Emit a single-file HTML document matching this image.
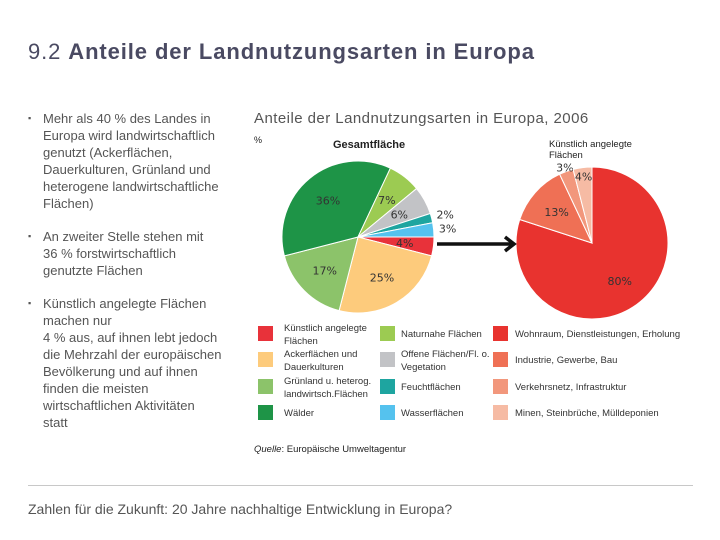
<!DOCTYPE html>
<html><head><meta charset="utf-8"><style>
body{margin:0;width:720px;height:540px;background:#fff;font-family:"Liberation Sans",sans-serif;position:relative;overflow:hidden}
.a{position:absolute}
#title{left:28px;top:39px;font-size:22px;color:#4a4a62;white-space:nowrap;letter-spacing:0.9px}
.bul{left:28px;font-size:13px;line-height:17px;color:#555;width:230px;white-space:nowrap}
.bul span{position:absolute;left:0;font-size:9px}
.bul div{margin-left:15px}
.lg{font-size:9.5px;color:#333;line-height:13px}
.sq{width:15px;height:15px}
</style></head><body>
<div class="a" id="title">9.2 <b>Anteile der Landnutzungsarten in Europa</b></div>
<div class="a bul" style="top:110px"><span>▪</span><div>Mehr als 40 % des Landes in<br>Europa wird landwirtschaftlich<br>genutzt (Ackerflächen,<br>Dauerkulturen, Grünland und<br>heterogene landwirtschaftliche<br>Flächen)</div></div>
<div class="a bul" style="top:228px"><span>▪</span><div>An zweiter Stelle stehen mit<br>36 % forstwirtschaftlich<br>genutzte Flächen</div></div>
<div class="a bul" style="top:295px"><span>▪</span><div>Künstlich angelegte Flächen<br>machen nur<br>4 % aus, auf ihnen lebt jedoch<br>die Mehrzahl der europäischen<br>Bevölkerung und auf ihnen<br>finden die meisten<br>wirtschaftlichen Aktivitäten<br>statt</div></div>
<div class="a" style="left:254px;top:110px;font-size:15px;color:#555;white-space:nowrap;letter-spacing:0.45px">Anteile der Landnutzungsarten in Europa, 2006</div>
<svg class="a" style="left:0;top:0" width="720" height="540" id="svg"></svg>
<div class="a" style="left:28px;top:485px;width:665px;border-top:1px solid #c8c8c8"></div>
<div class="a" style="left:28px;top:501px;font-size:14px;color:#555;white-space:nowrap">Zahlen für die Zukunft: 20 Jahre nachhaltige Entwicklung in Europa?</div>
<div class="a" style="left:254px;top:444px;font-size:9.5px;color:#222"><i>Quelle</i>: Europäische Umweltagentur</div>
<script>
const mainLabels=["4%","25%","17%","36%","7%","6%","2%","3%"];
const mainValues=[4,25,17,36,7,6,2,3];
const mainColors=["#e8323a","#fdcb7c","#8cc36a","#1e9447","#9ccb52","#c2c3c6","#1ea5a0","#55c2ee"];
const subLabels=["80%","13%","3%","4%"];
const subValues=[80,13,3,4];
const subColors=["#e8332f","#ef7055","#f2977c","#f6bba4"];
const legendNames=["Künstlich angelegte<br>Flächen","Ackerflächen und<br>Dauerkulturen","Grünland u. heterog.<br>landwirtsch.Flächen","Wälder","Naturnahe Flächen","Offene Flächen/Fl. o.<br>Vegetation","Feuchtflächen","Wasserflächen","Wohnraum, Dienstleistungen, Erholung","Industrie, Gewerbe, Bau","Verkehrsnetz, Infrastruktur","Minen, Steinbrüche, Mülldeponien"];
const legendColors=["#e8323a","#fdcb7c","#8cc36a","#1e9447","#9ccb52","#c2c3c6","#1ea5a0","#55c2ee","#e8332f","#ef7055","#f2977c","#f6bba4"];
const NS="http://www.w3.org/2000/svg",svg=document.getElementById('svg');
function el(t,a){const e=document.createElementNS(NS,t);for(const k in a)e.setAttribute(k,a[k]);svg.appendChild(e);return e;}
function pie(cx,cy,r,vals,cols,labs,start,name,radf){
 const tot=vals.reduce((a,b)=>a+b,0);let ang=start;
 vals.forEach((v,i)=>{const a0=ang,a1=ang+v/tot*2*Math.PI;ang=a1;
  const p=`M${cx},${cy}L${cx+r*Math.cos(a0)},${cy+r*Math.sin(a0)}A${r},${r} 0 ${a1-a0>Math.PI?1:0} 1 ${cx+r*Math.cos(a1)},${cy+r*Math.sin(a1)}Z`;
  const s=el('path',{d:p,fill:cols[i],stroke:'#fff','stroke-width':1});
  
  
  const m=(a0+a1)/2,rr=radf(i,v,r);
  const t=el('text',{x:cx+rr*Math.cos(m),y:cy+rr*Math.sin(m)+4,'text-anchor':'middle','font-size':11,fill:'#333','font-family':'"DejaVu Sans",sans-serif'});
  t.textContent=labs[i];
  
  
 });
}
pie(358,237,76,mainValues,mainColors,mainLabels,0,'main-pie',(i,v,r)=>v<=3?r+14:r*0.62);
pie(592,243,76,subValues,subColors,subLabels,-Math.PI/2,'sub-pie',(i,v,r)=>v<=3?r+4:(v<5?r*0.88:r*0.62));
const ar=el('path',{d:'M437,244H512M505,237L514,244L505,251',stroke:'#111','stroke-width':3.5,fill:'none'});


[["%",254,143,9,"normal"],["Gesamtfläche",333,148,11,"bold"],["Künstlich angelegte",549,147,9.5,"normal"],["Flächen",549,158,9.5,"normal"]].forEach(d=>{
 const t=el('text',{x:d[1],y:d[2],'font-size':d[3],'font-weight':d[4],fill:'#222','font-family':'"Liberation Sans",sans-serif'});t.textContent=d[0];
 
 
});
const xs=[258,380,493],tx=[284,401,515],ys=[326,352,379,405];
legendNames.forEach((n,i)=>{const c=Math.floor(i/4),r=i%4;
 const d=document.createElement('div');d.className='a';
 
 
 const multi=n.includes('<br>');
 d.innerHTML=`<div class="a sq" style="left:${xs[c]}px;top:${ys[r]}px;background:${legendColors[i]}"></div><div class="a lg" style="left:${tx[c]}px;top:${ys[r]+(multi?-4:2)}px;white-space:nowrap">${n}</div>`;
 document.body.appendChild(d);});
</script>
</body></html>
